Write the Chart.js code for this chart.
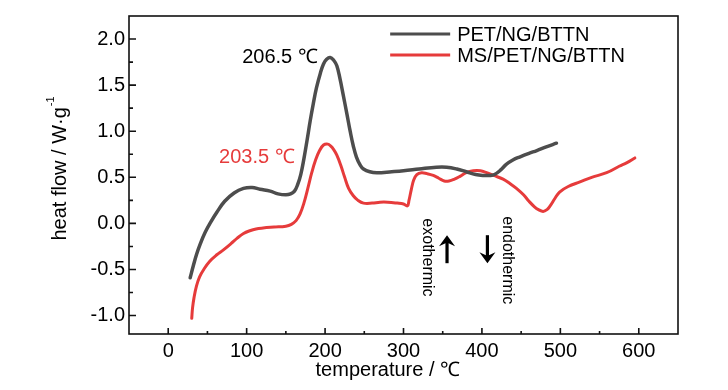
<!DOCTYPE html>
<html><head><meta charset="utf-8">
<script src="https://cdn.jsdelivr.net/npm/chart.js@4/dist/chart.umd.min.js"></script>
<style>html,body{margin:0;padding:0;background:#fff}canvas{display:block}</style>
</head><body>
<canvas id="c" width="728" height="390"></canvas>
<script>
const seriesNames = ['PET/NG/BTTN', 'MS/PET/NG/BTTN'];
const petTemp = [28,32,36,41,47,54,62,72,84,96,107,117,130,140,150,156,161,165,169,173,177,181,185,189,194,198,202,206.5,211,215,219,223,228,232,236,240,245,249,257,266,285,300,320,342,355,368,380,392,402,410,416,424,431,440,448,460,470,482,495];
const petHeat = [-0.59,-0.46,-0.34,-0.22,-0.10,0.01,0.12,0.24,0.33,0.38,0.39,0.37,0.35,0.32,0.31,0.32,0.35,0.42,0.53,0.70,0.90,1.11,1.30,1.47,1.63,1.73,1.78,1.80,1.77,1.71,1.57,1.40,1.18,1.00,0.84,0.72,0.63,0.59,0.56,0.55,0.56,0.57,0.59,0.61,0.61,0.59,0.56,0.53,0.52,0.52,0.53,0.58,0.64,0.69,0.72,0.76,0.79,0.83,0.87];
const msTemp = [30,31,33,36,40,46,53,62,70,80,88,96,104,112,121,135,150,157,163,168,173,178,183,188,193,198,203.5,207,211,215,220,225,230,236,242,249,260,270,280,292,300,305,307,310,313,317,323,330,338,345,352,358,365,372,380,389,398,406,415,427,436,444,453,460,467,472,478,483,487,493,499,510,525,540,559,575,585,595];
const msHeat = [-1.03,-0.92,-0.80,-0.68,-0.58,-0.49,-0.41,-0.34,-0.29,-0.22,-0.16,-0.11,-0.08,-0.06,-0.05,-0.04,-0.03,-0.01,0.03,0.10,0.22,0.38,0.55,0.69,0.79,0.85,0.86,0.84,0.80,0.74,0.63,0.50,0.38,0.30,0.25,0.22,0.22,0.23,0.23,0.22,0.21,0.19,0.25,0.37,0.47,0.53,0.55,0.54,0.52,0.49,0.46,0.46,0.48,0.51,0.55,0.57,0.57,0.55,0.52,0.48,0.43,0.38,0.31,0.24,0.18,0.15,0.13,0.15,0.19,0.27,0.34,0.40,0.45,0.50,0.55,0.62,0.66,0.71];
const xTickValues = [0,100,200,300,400,500,600];
const xMinorValues = [50,150,250,350,450,550];
const yTickValues = [-1.0,-0.5,0.0,0.5,1.0,1.5,2.0];
const yMinorValues = [-0.75,-0.25,0.25,0.75,1.25,1.75];
const peakLabels = ['206.5 ℃', '203.5 ℃'];
const xTitle = 'temperature / ℃';
const yTitle = 'heat flow / W·g';
const yTitleSup = '-1';
const exoLabel = 'exothermic';
const endoLabel = 'endothermic';

const FONT = "'Liberation Sans', Arial, sans-serif";
const colors = ['#4d4d4d', '#e63b3b'];

const toPts = (xs, ys) => xs.map((x, i) => ({x: x, y: ys[i]}));

const decor = {
  id: 'decor',
  afterDraw(chart) {
    const ctx = chart.ctx;
    const a = chart.chartArea;
    const xs = chart.scales.x, ys = chart.scales.y;
    ctx.save();
    ctx.strokeStyle = '#111';
    ctx.lineWidth = 1.6;
    ctx.strokeRect(a.left, a.top, a.right - a.left, a.bottom - a.top);
    ctx.beginPath();
    xTickValues.forEach(v => { const p = xs.getPixelForValue(v); ctx.moveTo(p, a.bottom); ctx.lineTo(p, a.bottom - 6); });
    xMinorValues.forEach(v => { const p = xs.getPixelForValue(v); ctx.moveTo(p, a.bottom); ctx.lineTo(p, a.bottom - 3); });
    yTickValues.forEach(v => { const p = ys.getPixelForValue(v); ctx.moveTo(a.left, p); ctx.lineTo(a.left + 7, p); });
    yMinorValues.forEach(v => { const p = ys.getPixelForValue(v); ctx.moveTo(a.left, p); ctx.lineTo(a.left + 4, p); });
    ctx.stroke();

    ctx.fillStyle = '#000';
    ctx.font = '20px ' + FONT;
    ctx.textAlign = 'center';
    ctx.textBaseline = 'middle';
    ctx.fillText(xTitle, xs.getPixelForValue(280), 370);

    ctx.save();
    ctx.translate(60, (a.top + a.bottom) / 2 - 6);
    ctx.rotate(-Math.PI / 2);
    ctx.font = '20px ' + FONT;
    const w1 = ctx.measureText(yTitle).width;
    ctx.font = '11px ' + FONT;
    const w2 = ctx.measureText(yTitleSup).width;
    const start = -(w1 + w2) / 2;
    ctx.textAlign = 'left';
    ctx.font = '20px ' + FONT;
    ctx.fillText(yTitle, start, 0);
    ctx.font = '11px ' + FONT;
    ctx.fillText(yTitleSup, start + w1 + 1, -9);
    ctx.restore();

    const legX = xs.getPixelForValue(283), legW = 60;
    chart.data.datasets.forEach((ds, i) => {
      const y = 34 + i * 21;
      ctx.strokeStyle = ds.borderColor;
      ctx.lineWidth = 3;
      ctx.beginPath(); ctx.moveTo(legX, y); ctx.lineTo(legX + legW, y); ctx.stroke();
      ctx.fillStyle = '#000';
      ctx.font = '20px ' + FONT;
      ctx.textAlign = 'left';
      ctx.textBaseline = 'middle';
      ctx.fillText(ds.label, legX + legW + 7, y + 1);
    });

    ctx.font = '20px ' + FONT;
    ctx.textAlign = 'center';
    ctx.textBaseline = 'middle';
    ctx.fillStyle = '#000';
    ctx.fillText(peakLabels[0], xs.getPixelForValue(142.5), ys.getPixelForValue(1.795));
    ctx.fillStyle = colors[1];
    ctx.fillText(peakLabels[1], xs.getPixelForValue(113), ys.getPixelForValue(0.71));

    ctx.fillStyle = '#000';
    ctx.font = '16px ' + FONT;
    [[exoLabel, 331, -0.37], [endoLabel, 432, -0.40]].forEach(([t, xv, yv]) => {
      ctx.save();
      ctx.translate(xs.getPixelForValue(xv), ys.getPixelForValue(yv));
      ctx.rotate(Math.PI / 2);
      ctx.textAlign = 'center';
      ctx.textBaseline = 'middle';
      ctx.fillText(t, 0, 0);
      ctx.restore();
    });
    const drawArrow = (xv, up) => {
      const cx = xs.getPixelForValue(xv);
      const cy = ys.getPixelForValue(-0.28);
      const h = 28, hh = 11, hw = 8;
      const dir = up ? -1 : 1;
      const tip = cy + dir * h / 2, tail = cy - dir * h / 2;
      ctx.strokeStyle = '#000';
      ctx.lineWidth = 3.2;
      ctx.beginPath(); ctx.moveTo(cx, tail); ctx.lineTo(cx, tip - dir * 4); ctx.stroke();
      ctx.fillStyle = '#000';
      ctx.beginPath();
      ctx.moveTo(cx, tip);
      ctx.lineTo(cx - hw, tip - dir * hh);
      ctx.lineTo(cx - 1.5, tip - dir * (hh - 3));
      ctx.lineTo(cx + 1.5, tip - dir * (hh - 3));
      ctx.lineTo(cx + hw, tip - dir * hh);
      ctx.closePath();
      ctx.fill();
    };
    drawArrow(355.5, true);
    drawArrow(407, false);
    ctx.restore();
  }
};

new Chart(document.getElementById('c'), {
  type: 'line',
  data: {
    datasets: [
      {label: seriesNames[0], data: toPts(petTemp, petHeat), borderColor: colors[0], borderWidth: 3.5, pointRadius: 0, fill: false, tension: 0.4, borderJoinStyle: 'round', borderCapStyle: 'round'},
      {label: seriesNames[1], data: toPts(msTemp, msHeat), borderColor: colors[1], borderWidth: 3, pointRadius: 0, fill: false, tension: 0.4, borderJoinStyle: 'round', borderCapStyle: 'round'}
    ]
  },
  options: {
    responsive: false,
    animation: false,
    devicePixelRatio: 1,
    layout: {padding: {top: 15, right: 50, left: 0, bottom: 0}},
    plugins: {legend: {display: false}, tooltip: {enabled: false}},
    scales: {
      x: {
        type: 'linear', min: -50, max: 650,
        grid: {display: false, drawTicks: false},
        border: {display: false},
        afterBuildTicks: s => { s.ticks = xTickValues.map(v => ({value: v})); },
        afterFit: s => { s.height = 56; },
        ticks: {color: '#000', font: {family: FONT, size: 20}, padding: 5, maxRotation: 0, autoSkip: false, callback: v => String(v)}
      },
      y: {
        type: 'linear', min: -1.2, max: 2.25,
        grid: {display: false, drawTicks: false},
        border: {display: false},
        afterBuildTicks: s => { s.ticks = yTickValues.map(v => ({value: v})); },
        afterFit: s => { s.width = 129; },
        ticks: {color: '#000', font: {family: FONT, size: 20}, padding: 4, autoSkip: false, callback: v => Number(v).toFixed(1)}
      }
    }
  },
  plugins: [decor]
});
</script>
</body></html>
